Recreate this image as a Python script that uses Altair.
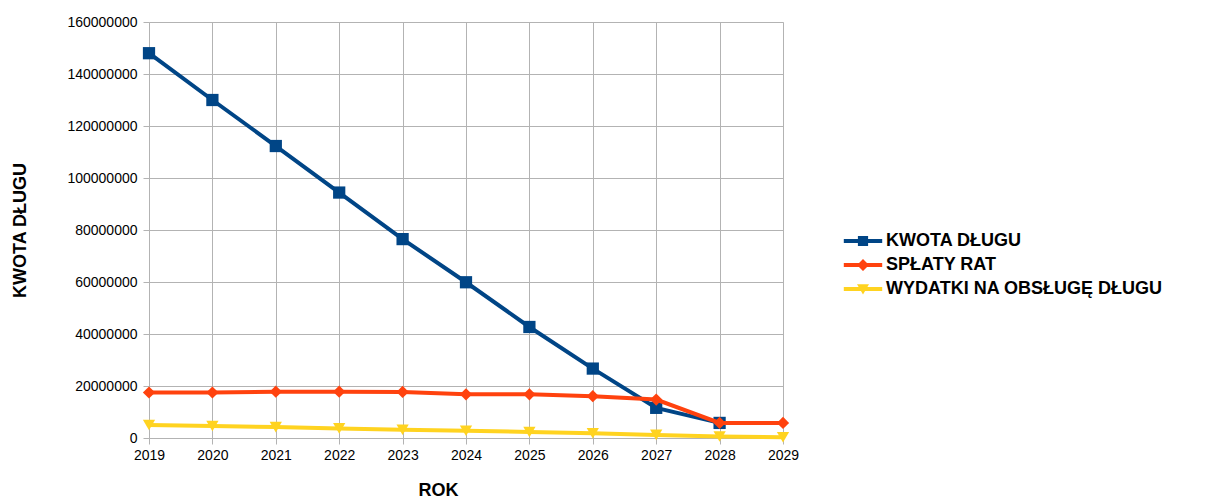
import altair as alt
import pandas as pd

years = [2019, 2020, 2021, 2022, 2023, 2024, 2025, 2026, 2027, 2028, 2029]
series_names = ["KWOTA DŁUGU", "SPŁATY RAT", "WYDATKI NA OBSŁUGĘ DŁUGU"]
kwota = [148000000, 130000000, 112300000, 94400000, 76500000, 59900000,
         42700000, 26700000, 11600000, 5800000, None]
splaty = [17500000, 17500000, 17800000, 17800000, 17700000, 16800000,
          16800000, 16100000, 14800000, 5800000, 5800000]
wydatki = [5000000, 4600000, 4200000, 3700000, 3200000, 2800000,
           2300000, 1800000, 1200000, 600000, 300000]
colors = ["#004586", "#ff420e", "#ffd320"]
marker_shapes = ["square", "diamond", "triangle-down"]
y_ticks = [0, 20000000, 40000000, 60000000, 80000000, 100000000,
           120000000, 140000000, 160000000]

rows = []
for name, vals in zip(series_names, [kwota, splaty, wydatki]):
    for yr, v in zip(years, vals):
        if v is not None:
            rows.append({"rok": yr, "wartosc": v, "seria": name})
df = pd.DataFrame(rows)

FONT = "Liberation Sans"

# legend symbols: a line segment with the marker in its middle
legend_paths = [
    "M-3.2,-0.32L3.2,-0.32L3.2,0.32L-3.2,0.32Z M-0.85,-0.85L0.85,-0.85L0.85,0.85L-0.85,0.85Z",
    "M-3.2,-0.32L3.2,-0.32L3.2,0.32L-3.2,0.32Z M0,-1L1,0L0,1L-1,0Z",
    "M-3.2,-0.32L3.2,-0.32L3.2,0.32L-3.2,0.32Z M-1,-0.8L1,-0.8L0,0.9Z",
]

x_enc = alt.X(
    "rok:Q",
    scale=alt.Scale(domain=[2019, 2029], nice=False, zero=False),
    axis=alt.Axis(
        values=years, format="d", title="ROK",
        titleX=289, titleY=52, titleBaseline="middle", titleAlign="center",
        labelFontSize=14, labelFont=FONT, labelColor="#000000",
        labelFlush=False, labelBound=False, labelOverlap=False,
        titleFont=FONT, titleFontSize=18, titleFontWeight="bold", titleColor="#000000",
        tickSize=6, tickColor="#b3b3b3", labelPadding=4,
        domain=False, gridColor="#b3b3b3", grid=True,
    ),
)
y_enc = alt.Y(
    "wartosc:Q",
    scale=alt.Scale(domain=[0, 160000000], nice=False),
    axis=alt.Axis(
        values=y_ticks, format="d", title="KWOTA DŁUGU",
        titleX=-129, titleY=208, titleAngle=-90, titleBaseline="middle", titleAlign="center",
        labelFontSize=14, labelFont=FONT, labelColor="#000000",
        labelFlush=False, labelBound=False, labelOverlap=False,
        titleFont=FONT, titleFontSize=18, titleFontWeight="bold", titleColor="#000000",
        tickSize=6, tickColor="#b3b3b3", labelPadding=6,
        domain=False, gridColor="#b3b3b3", grid=True,
    ),
)

legend = alt.Legend(
    title=None, orient="none", legendX=705, legendY=210,
    labelFont=FONT, labelFontSize=18, labelFontWeight="bold", labelColor="#000000",
    symbolSize=144, labelOffset=14, rowPadding=6, padding=0,
    symbolStrokeWidth=0, symbolOpacity=1, labelLimit=400,
)

layers = []
for name, vals_color, shp in zip(series_names, colors, marker_shapes):
    sub = alt.Chart(df).transform_filter(alt.datum.seria == name)
    layers.append(sub.mark_line(strokeWidth=4, color=vals_color).encode(x=x_enc, y=y_enc))
    layers.append(
        sub.mark_point(filled=True, opacity=1, size=150, shape=shp, color=vals_color)
        .encode(x=x_enc, y=y_enc)
    )

legend_layer = (
    alt.Chart(df).transform_filter("datum.rok < 0")
    .mark_point(filled=True, opacity=1, size=144)
    .encode(
        x=x_enc, y=y_enc,
        color=alt.Color("seria:N", scale=alt.Scale(domain=series_names, range=colors),
                        sort=series_names, legend=legend),
        shape=alt.Shape("seria:N", scale=alt.Scale(domain=series_names, range=legend_paths),
                        sort=series_names, legend=legend),
    )
)

chart = alt.layer(legend_layer, *layers).properties(
    width=634, height=416,
    autosize=alt.AutoSizeParams(type="none"),
    padding={"left": 141, "top": 14, "right": 420, "bottom": 60},
).configure_view(stroke=None).configure(background="#ffffff")

chart.save("out.html", embed_options={"renderer": "svg", "actions": False})
